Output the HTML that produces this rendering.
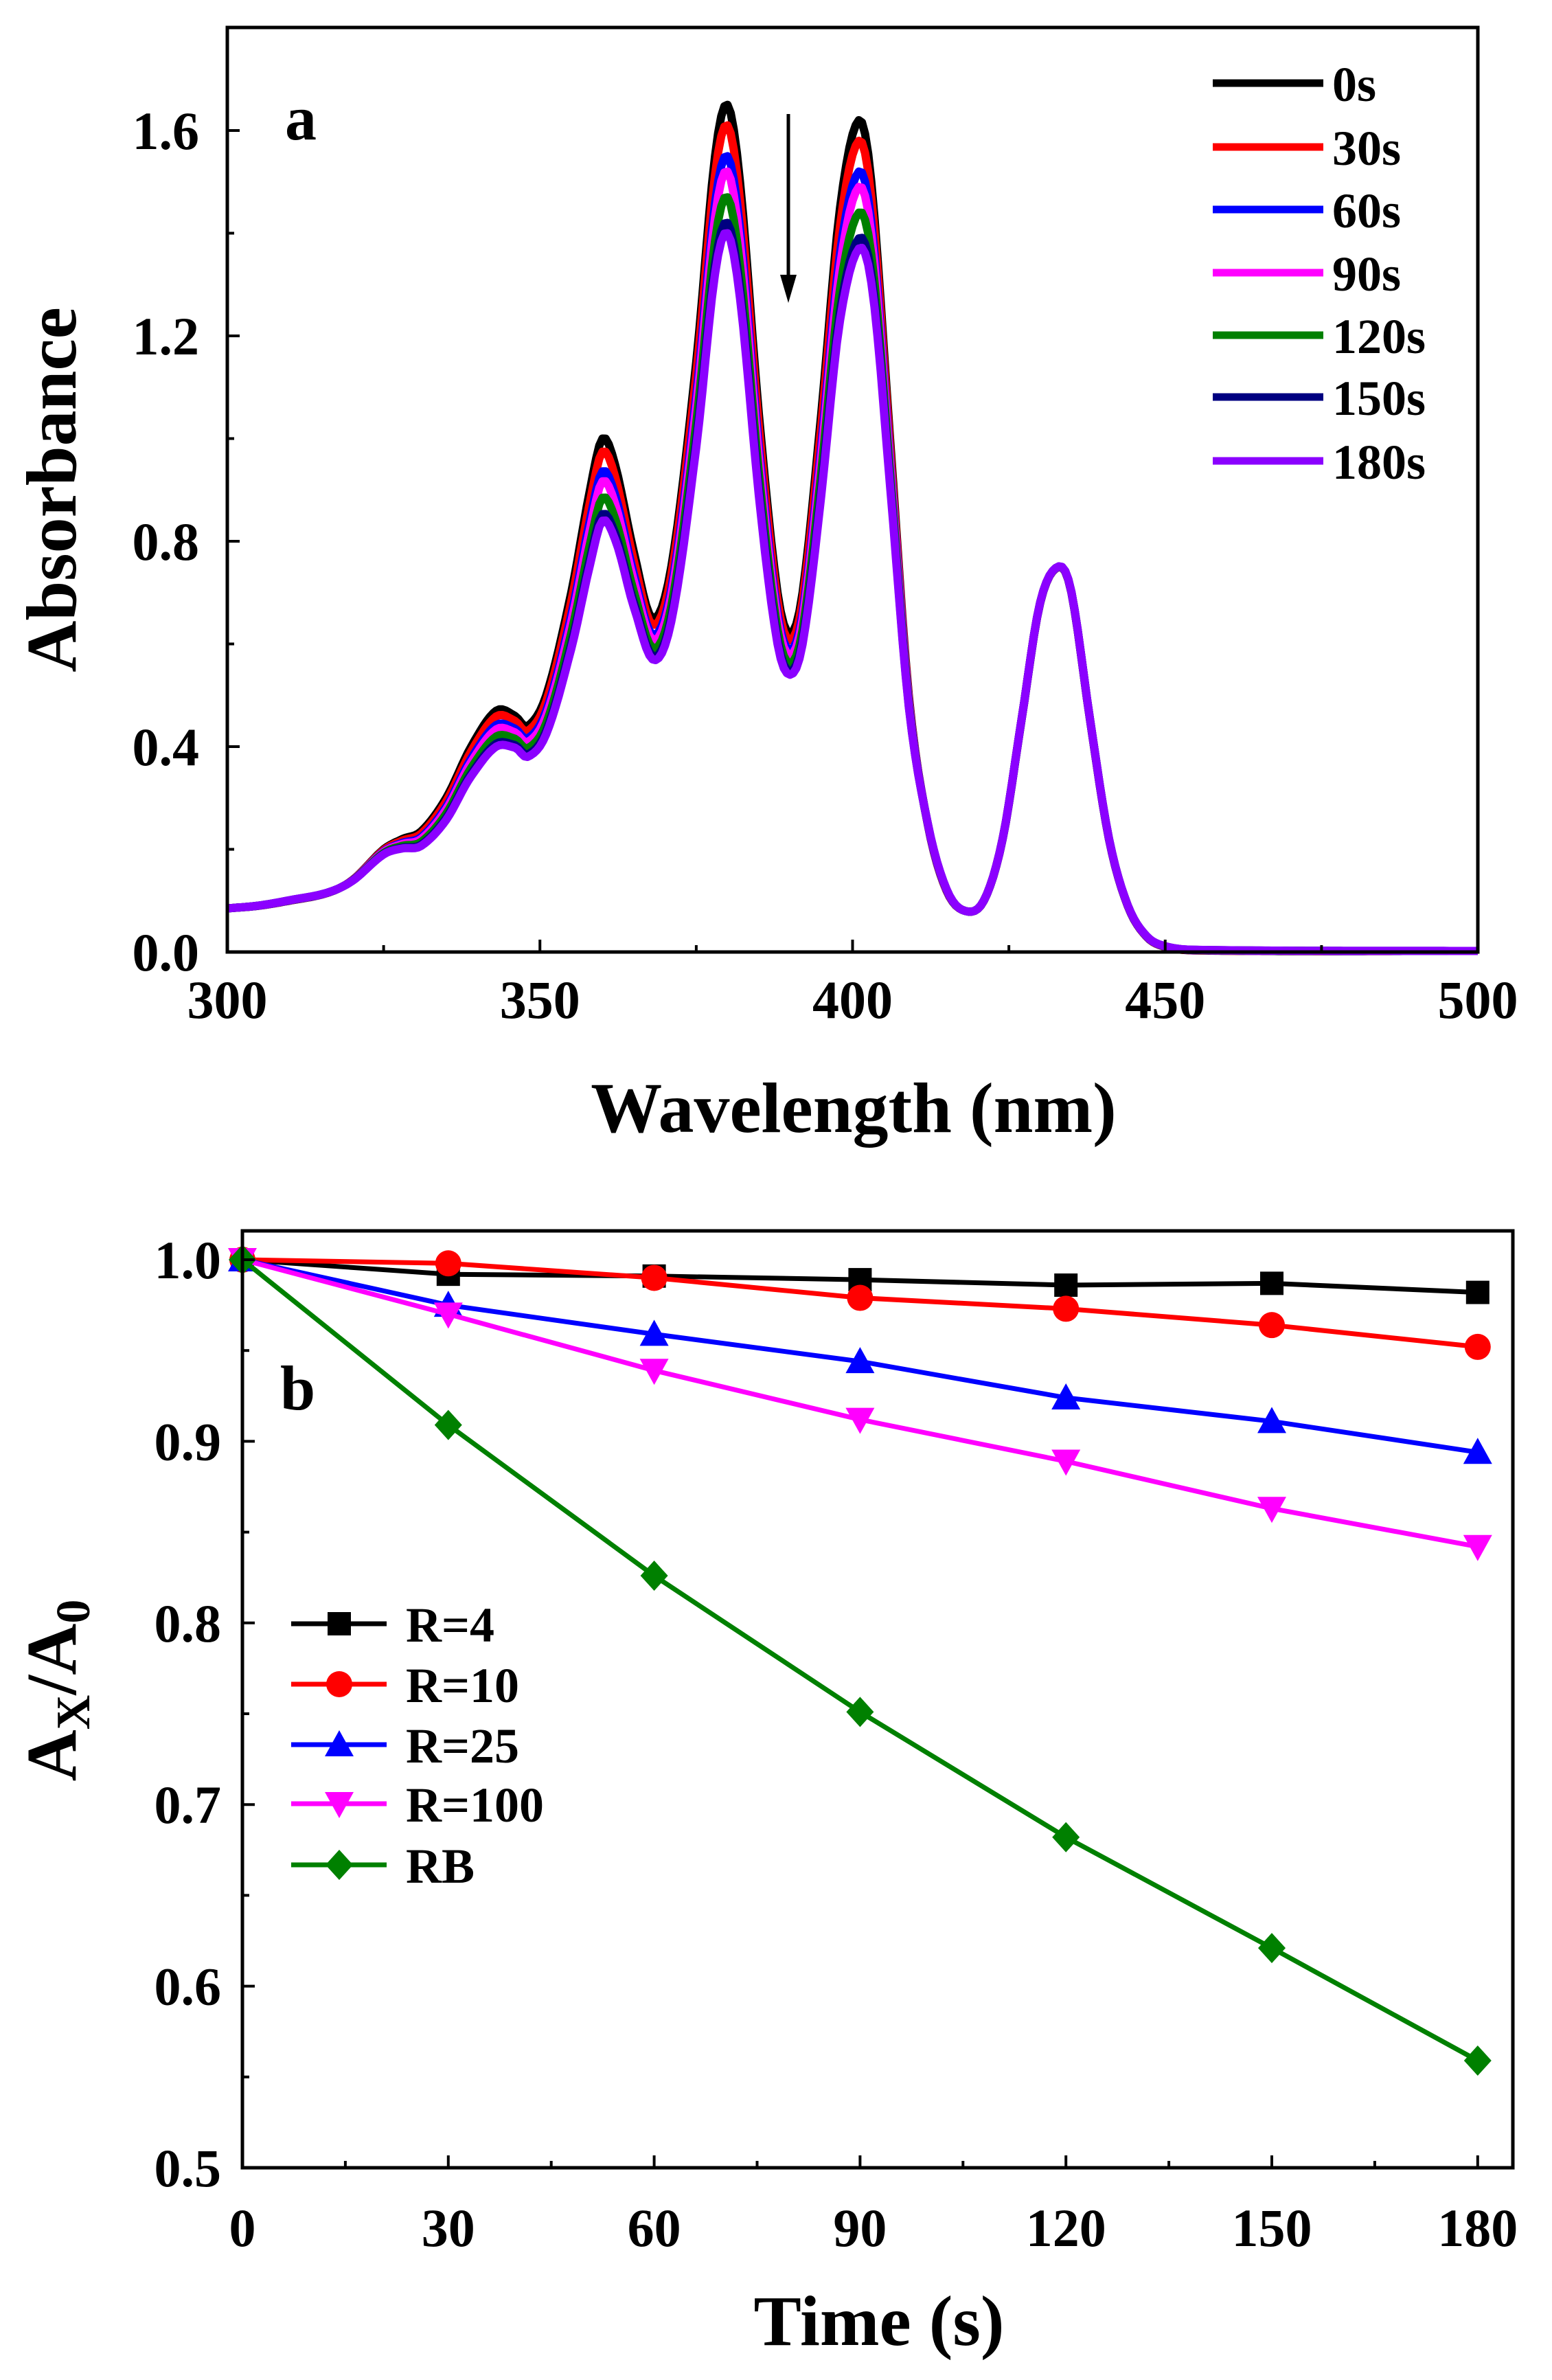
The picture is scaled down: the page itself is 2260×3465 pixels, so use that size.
<!DOCTYPE html>
<html><head><meta charset="utf-8"><style>
html,body{margin:0;padding:0;background:#fff;}
svg{display:block;}
text{font-family:"Liberation Serif",serif;font-weight:bold;fill:#000;}
</style></head><body>
<svg id="s" width="2260" height="3465" viewBox="0 0 2260 3465" xmlns="http://www.w3.org/2000/svg">
<rect width="2260" height="3465" fill="#fff"/>
<g id="a"></g>
<g id="b"></g>
</svg>
<script>
const NS="http://www.w3.org/2000/svg";
function el(p,t,at,txt){const e=document.createElementNS(NS,t);for(const k in at)e.setAttribute(k,at[k]);if(txt!==undefined)e.textContent=txt;p.appendChild(e);return e;}
const A=document.getElementById('a'),B=document.getElementById('b');
const aL=331,aR=2152,aT=40,aB=1386;
const ax=x=>aL+(x-300)/200*(aR-aL);
const ay=v=>aB-v*747.5;
const k0=[[300,0.085],[305,0.09],[310,0.1],[316,0.115],[320,0.14],[325,0.2],[328,0.22],[331,0.235],[335,0.3],[339,0.4],[343,0.47],[346,0.46],[348,0.44],[351,0.5],[355,0.7],[358,0.9],[360,1.0],[362,0.95],[365,0.78],[368,0.65],[371,0.75],[375,1.15],[378,1.55],[380,1.65],[382,1.5],[385,1.05],[388,0.7],[390,0.62],[392,0.7],[395,1.05],[398,1.45],[401,1.62],[403,1.5],[406,1.0],[409,0.5],[412,0.25],[415,0.12],[418,0.08],[421,0.1],[424,0.22],[427,0.45],[430,0.68],[433,0.75],[435,0.7],[438,0.45],[441,0.22],[444,0.09],[447,0.03],[450,0.01],[455,0.003],[500,0.002]];
const dk=[[300,0],[318,0],[325,0.01],[330,0.025],[337,0.05],[343,0.07],[348,0.06],[354,0.1],[360,0.16],[364,0.12],[368,0.08],[374,0.15],[380,0.25],[385,0.16],[390,0.08],[395,0.16],[401,0.25],[405,0.12],[410,0.01],[418,0],[500,0]];
function interp(k,x){for(let i=0;i<k.length-1;i++){if(x>=k[i][0]&&x<=k[i+1][0]){
 const p0=k[Math.max(0,i-1)],p1=k[i],p2=k[i+1],p3=k[Math.min(k.length-1,i+2)];
 const t=(x-p1[0])/(p2[0]-p1[0]);const h=p2[0]-p1[0];
 const m1=(p2[1]-p0[1])/(p2[0]-p0[0])*h, m2=(p3[1]-p1[1])/(p3[0]-p1[0])*h;
 const t2=t*t,t3=t2*t;
 return (2*t3-3*t2+1)*p1[1]+(t3-2*t2+t)*m1+(-2*t3+3*t2)*p2[1]+(t3-t2)*m2;}}return 0;}
const cols=['#000000','#ff0000','#0000ff','#ff00ff','#008000','#000080','#8b00ff'];
const fs=[0,0.16,0.4,0.52,0.72,0.92,1];
const labs=['0s','30s','60s','90s','120s','150s','180s'];
cols.forEach((c,i)=>{let d='';for(let x=300;x<=500;x+=0.5){const v=interp(k0,x)-fs[i]*interp(dk,x);d+=(x==300?'M':'L')+ax(x).toFixed(1)+' '+ay(v).toFixed(1);}
 el(A,'path',{d:d,fill:'none',stroke:c,'stroke-width':12,'stroke-linejoin':'round'});});
el(A,'rect',{x:aL,y:aT,width:aR-aL,height:aB-aT,fill:'none',stroke:'#000','stroke-width':5});
for(let x=300;x<=500;x+=25){const mj=x%50==0;el(A,'line',{x1:ax(x),x2:ax(x),y1:aB,y2:aB-(mj?18:10),stroke:'#000','stroke-width':4});
 if(mj)el(A,'text',{x:ax(x),y:1482,'font-size':78,'text-anchor':'middle'},String(x));}
for(let v=0;v<=1.61;v+=0.2){const mj=Math.round(v*10)%4==0;el(A,'line',{x1:aL,x2:aL+(mj?18:10),y1:ay(v),y2:ay(v),stroke:'#000','stroke-width':4});
 if(mj)el(A,'text',{x:290,y:ay(v)+27,'font-size':78,'text-anchor':'end'},v.toFixed(1));}
el(A,'text',{x:1243,y:1648,'font-size':104,'text-anchor':'middle'},'Wavelength (nm)');
el(A,'text',{x:0,y:0,'font-size':104,'text-anchor':'middle',transform:'translate(110,713) rotate(-90)'},'Absorbance');
el(A,'text',{x:415,y:203,'font-size':92},'a');
el(A,'line',{x1:1148,y1:166,x2:1148,y2:415,stroke:'#000','stroke-width':5});
el(A,'path',{d:'M1136 400 L1160 400 L1148 441 Z',fill:'#000'});
const ly=[121,214,305,397,488,578,671];
cols.forEach((c,i)=>{el(A,'line',{x1:1766,x2:1927,y1:ly[i],y2:ly[i],stroke:c,'stroke-width':11});
 el(A,'text',{x:1940,y:ly[i]+26,'font-size':72},labs[i]);});
const bL=353,bR=2203,bT=1792,bB=3156;
const bx=t=>353+t/30*299.8;
const by=v=>1834+(1-v)*2644;
const data=[
 ['R=4','#000000','sq',[1,0.992,0.991,0.989,0.986,0.987,0.982]],
 ['R=10','#ff0000','ci',[1,0.998,0.990,0.979,0.973,0.964,0.952]],
 ['R=25','#0000ff','tu',[1,0.975,0.959,0.944,0.924,0.911,0.894]],
 ['R=100','#ff00ff','td',[1,0.970,0.939,0.912,0.889,0.863,0.842]],
 ['RB','#008000','di',[1,0.909,0.826,0.751,0.682,0.621,0.559]]];
function mk(p,type,x,y,c){const r=17;
 if(type=='sq')el(p,'rect',{x:x-r,y:y-r,width:2*r,height:2*r,fill:c});
 else if(type=='ci')el(p,'circle',{cx:x,cy:y,r:r+2,fill:c});
 else if(type=='tu')el(p,'path',{d:`M${x} ${y-r-4} L${x+r+4} ${y+r} L${x-r-4} ${y+r} Z`,fill:c});
 else if(type=='td')el(p,'path',{d:`M${x} ${y+r+4} L${x+r+4} ${y-r} L${x-r-4} ${y-r} Z`,fill:c});
 else el(p,'path',{d:`M${x} ${y-r-5} L${x+r+3} ${y} L${x} ${y+r+5} L${x-r-3} ${y} Z`,fill:c});}
data.forEach(s=>{let d='';s[3].forEach((v,i)=>{d+=(i?'L':'M')+bx(i*30).toFixed(1)+' '+by(v).toFixed(1);});
 el(B,'path',{d:d,fill:'none',stroke:s[1],'stroke-width':7});
 s[3].forEach((v,i)=>mk(B,s[2],bx(i*30),by(v),s[1]));});
el(B,'rect',{x:bL,y:bT,width:bR-bL,height:bB-bT,fill:'none',stroke:'#000','stroke-width':5});
for(let t=0;t<=180;t+=15){const mj=t%30==0;el(B,'line',{x1:bx(t),x2:bx(t),y1:bB,y2:bB-(mj?18:10),stroke:'#000','stroke-width':4});
 if(mj)el(B,'text',{x:bx(t),y:3270,'font-size':78,'text-anchor':'middle'},String(t));}
for(let i=0;i<=10;i++){const v=0.5+i*0.05;const mj=i%2==0;el(B,'line',{x1:bL,x2:bL+(mj?18:10),y1:by(v),y2:by(v),stroke:'#000','stroke-width':4});
 if(mj)el(B,'text',{x:322,y:by(v)+27,'font-size':78,'text-anchor':'end'},v.toFixed(1));}
el(B,'text',{x:1280,y:3414,'font-size':104,'text-anchor':'middle'},'Time (s)');
const yt=el(B,'text',{x:0,y:0,'font-size':104,'text-anchor':'middle',transform:'translate(110,2461) rotate(-90)'});
yt.innerHTML='A<tspan font-size="70" dy="20">X</tspan><tspan dy="-20">/A</tspan><tspan font-size="70" dy="20">0</tspan>';
el(B,'text',{x:408,y:2052,'font-size':92},'b');
const lby=[2364,2452,2540,2626,2715];
data.forEach((s,i)=>{el(B,'line',{x1:424,x2:563,y1:lby[i],y2:lby[i],stroke:s[1],'stroke-width':7});
 mk(B,s[2],494,lby[i],s[1]);el(B,'text',{x:591,y:lby[i]+26,'font-size':72},s[0]);});
</script>
</body></html>
